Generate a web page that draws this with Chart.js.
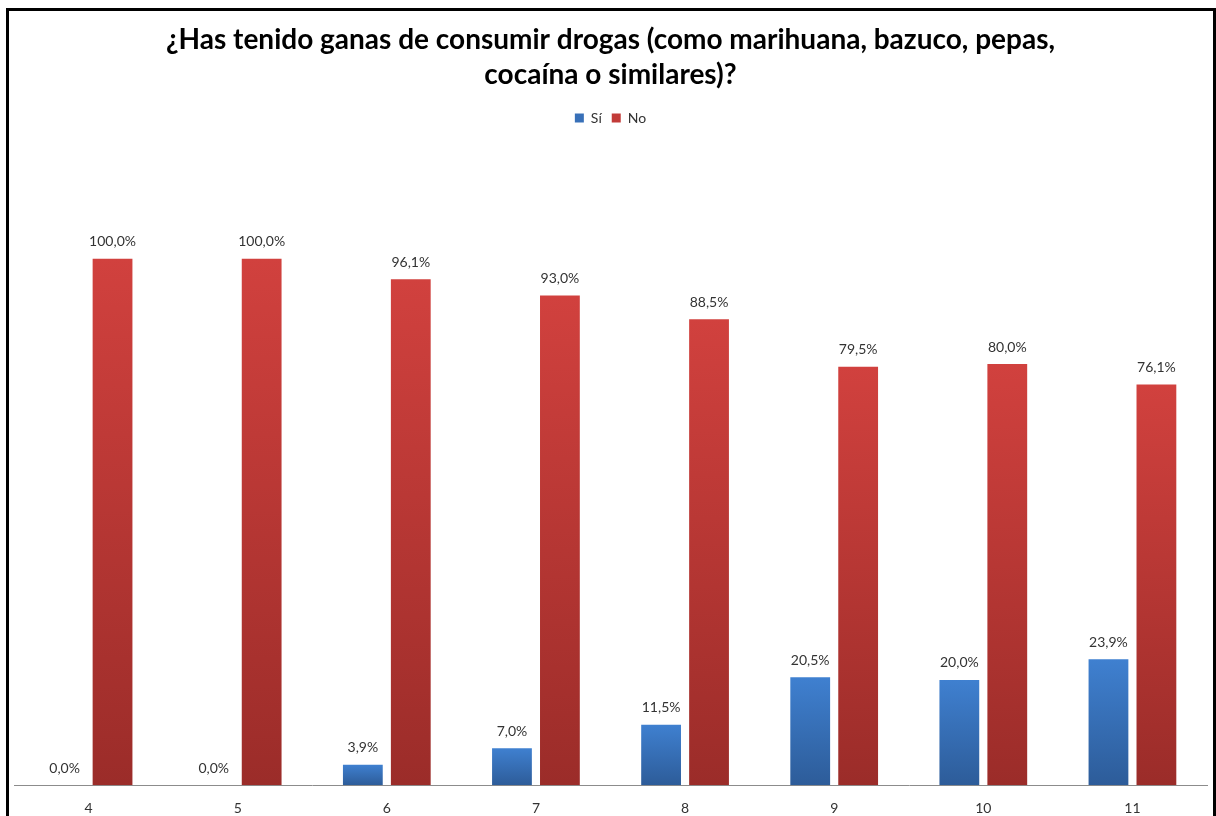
<!DOCTYPE html>
<html>
<head>
<meta charset="utf-8">
<script src="https://cdn.jsdelivr.net/npm/chart.js@4"></script>
<style>
  html, body { margin:0; padding:0; background:#fff; overflow:hidden; width:1216px; height:816px; }
  #wrap { position:absolute; left:0; top:0; width:1216px; height:832px; }
  #frame { position:absolute; left:6px; top:8px; width:1204px; height:840px; border:3px solid #000; pointer-events:none; }
</style>
</head>
<body>
<div id="wrap"><canvas id="c" width="1216" height="832"></canvas></div>
<div id="frame"></div>
<script>
const categories = ['4', '5', '6', '7', '8', '9', '10', '11'];
const siValues = [0.0, 0.0, 3.9, 7.0, 11.5, 20.5, 20.0, 23.9];
const noValues = [100.0, 100.0, 96.1, 93.0, 88.5, 79.5, 80.0, 76.1];
const seriesNames = ['Sí', 'No'];
const titleLines = ['¿Has tenido ganas de consumir drogas (como marihuana, bazuco, pepas,', 'cocaína o similares)?'];

const FONT = 'Lato, "Open Sans", sans-serif';

function gradFill(top, bottom, flat) {
  return (ctx) => {
    const chart = ctx.chart;
    if (!chart.chartArea || ctx.type !== 'data') return flat;
    const ys = chart.scales.y;
    const yTop = ys.getPixelForValue(ctx.raw);
    const yBot = ys.getPixelForValue(0);
    if (!isFinite(yTop) || Math.abs(yBot - yTop) < 1) return flat;
    const g = chart.ctx.createLinearGradient(0, yTop, 0, yBot);
    g.addColorStop(0, top);
    g.addColorStop(1, bottom);
    return g;
  };
}

const labelPlugin = {
  id: 'valueLabels',
  afterDatasetsDraw(chart) {
    const c = chart.ctx;
    c.save();
    c.font = '14px ' + FONT;
    c.fillStyle = '#333333';
    c.textAlign = 'center';
    c.textBaseline = 'middle';
    chart.data.datasets.forEach((ds, di) => {
      const meta = chart.getDatasetMeta(di);
      meta.data.forEach((el, i) => {
        const v = ds.data[i];
        const txt = v.toFixed(1).replace('.', ',') + '%';
        c.fillText(txt, el.x, el.y - 17);
      });
    });
    c.restore();
  }
};

new Chart(document.getElementById('c'), {
  type: 'bar',
  data: {
    labels: categories,
    datasets: [
      {
        label: seriesNames[0],
        data: siValues,
        backgroundColor: gradFill('#3F80D0', '#2D5C99', '#3870B8'),
        borderWidth: 0,
        categoryPercentage: 0.643,
        barPercentage: 0.83
      },
      {
        label: seriesNames[1],
        data: noValues,
        backgroundColor: gradFill('#D1413E', '#9B2C29', '#B83835'),
        borderWidth: 0,
        categoryPercentage: 0.643,
        barPercentage: 0.83
      }
    ]
  },
  options: {
    responsive: false,
    animation: false,
    events: [],
    layout: { padding: { left: 14, right: 9, top: 0, bottom: 0 } },
    plugins: {
      title: {
        display: true,
        text: titleLines,
        color: '#000000',
        font: { family: FONT, size: 28, weight: 'bold', lineHeight: 1.25 },
        padding: { top: 22, bottom: 9 }
      },
      legend: {
        display: true,
        position: 'top',
        labels: {
          color: '#333333',
          font: { family: FONT, size: 14 },
          boxWidth: 9,
          boxHeight: 9,
          padding: 10,
          generateLabels(chart) {
            return chart.data.datasets.map((ds, i) => ({
              text: ds.label,
              fillStyle: i === 0 ? '#3870B8' : '#C23B38',
              strokeStyle: i === 0 ? '#3870B8' : '#C23B38',
              lineWidth: 0,
              hidden: false,
              datasetIndex: i,
              fontColor: '#333333'
            }));
          }
        }
      },
      tooltip: { enabled: false }
    },
    scales: {
      x: {
        grid: { display: false, drawTicks: false },
        border: { display: true, color: '#8C8C8C', width: 1 },
        ticks: { color: '#333333', font: { family: FONT, size: 14 }, padding: 15 }
      },
      y: {
        display: false,
        min: 0,
        max: 123.5
      }
    }
  },
  plugins: [labelPlugin]
});
</script>
</body>
</html>
